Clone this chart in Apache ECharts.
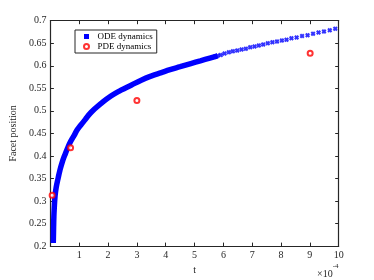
<!DOCTYPE html>
<html>
<head>
<meta charset="utf-8">
<script src="https://cdn.jsdelivr.net/npm/echarts@6/dist/echarts.min.js"></script>
<style>html,body{margin:0;padding:0;background:#fff}#c{width:374px;height:280px}</style>
</head>
<body>
<div id="c"></div>
<script>
// ODE dynamics, dense early part (t in 1e-4)
var odeDenseT = [0.10, 0.11, 0.12, 0.13, 0.16, 0.20, 0.266, 0.33, 0.414, 0.50, 0.587, 0.70, 0.82, 0.93, 1.05, 1.20, 1.415, 1.75, 2.10, 2.45, 2.80, 3.15, 3.49, 3.85, 4.18, 4.50, 4.87, 5.20, 5.53, 5.80];
var odeDenseY = [0.207, 0.240, 0.265, 0.280, 0.310, 0.330, 0.350, 0.368, 0.387, 0.402, 0.416, 0.432, 0.445, 0.458, 0.468, 0.480, 0.497, 0.516, 0.533, 0.546, 0.557, 0.568, 0.577, 0.585, 0.592, 0.598, 0.605, 0.611, 0.617, 0.622];
// ODE dynamics, sparse markers
var odeT = [5.70, 5.80, 5.91, 6.04, 6.19, 6.33, 6.48, 6.63, 6.78, 6.93, 7.08, 7.23, 7.38, 7.54, 7.70, 7.86, 8.03, 8.19, 8.36, 8.54, 8.73, 8.92, 9.11, 9.30, 9.49, 9.69, 9.88];
var odeY = [0.620, 0.622, 0.624, 0.627, 0.630, 0.632, 0.634, 0.636, 0.638, 0.641, 0.643, 0.645, 0.647, 0.650, 0.652, 0.654, 0.656, 0.658, 0.661, 0.663, 0.666, 0.668, 0.671, 0.674, 0.676, 0.679, 0.682];
// PDE dynamics
var pdeT = [0.06, 0.70, 3.00, 9.01];
var pdeY = [0.313, 0.418, 0.523, 0.628];

var xTicks = [0,1,2,3,4,5,6,7,8,9,10];
var yTicks = [0.2,0.25,0.3,0.35,0.4,0.45,0.5,0.55,0.6,0.65,0.7];

function zip(a,b){return a.map(function(v,i){return [v,b[i]];});}

var FONT = 'Liberation Serif';
var TXT = '#262626';
var crossPath = 'path://M0,3 L3,0 L5,2 L7,0 L10,3 L8,5 L10,7 L7,10 L5,8 L3,10 L0,7 L2,5 Z';
var squarePath = 'path://M0,0 L10,0 L10,10 L0,10 Z';

var chart = echarts.init(document.getElementById('c'), null, {renderer:'canvas'});
var axisCommon = {
  axisLine:{show:true, onZero:false, lineStyle:{color:TXT, width:1.2}},
  axisTick:{show:true, inside:true, length:3.5, lineStyle:{color:TXT, width:1}},
  splitLine:{show:false}
};
chart.setOption({
  animation:false,
  backgroundColor:'#fff',
  textStyle:{fontFamily:FONT},
  grid:{left:49, right:35.3, top:20.7, bottom:31.7, containLabel:false},
  legend:{
    left:75, top:30, orient:'vertical', symbolKeepAspect:true,
    padding:[2,4,2,8], itemGap:1, itemWidth:12, itemHeight:5,
    borderColor:TXT, borderWidth:1, backgroundColor:'#fff',
    textStyle:{fontFamily:FONT, fontSize:9, color:'#000'},
    data:[{name:'ODE dynamics', icon:squarePath, itemStyle:{color:'#0000ff'}}, {name:'PDE dynamics', icon:'emptyCircle'}]
  },
  xAxis:[
    Object.assign({type:'value', min:0, max:10, interval:1, position:'bottom',
      name:'t', nameLocation:'middle', nameGap:18,
      nameTextStyle:{fontFamily:FONT, fontSize:10, color:TXT},
      axisLabel:{fontFamily:FONT, fontSize:10, color:TXT, margin:4,
        formatter:function(v){return v===0?'':String(v);}}
    }, axisCommon),
    Object.assign({type:'value', min:0, max:10, interval:1, position:'top',
      axisLabel:{show:false}}, axisCommon)
  ],
  yAxis:[
    Object.assign({type:'value', min:0.2, max:0.7, interval:0.05, position:'left',
      name:'Facet position', nameLocation:'middle', nameGap:26,
      nameTextStyle:{fontFamily:FONT, fontSize:10, color:TXT},
      axisLabel:{fontFamily:FONT, fontSize:10, color:TXT, margin:4,
        formatter:function(v){return String(+v.toFixed(2));}}
    }, axisCommon),
    Object.assign({type:'value', min:0.2, max:0.7, interval:0.05, position:'right',
      axisLabel:{show:false}}, axisCommon)
  ],
  series:[
    {name:'ODE dynamics', type:'line', data:zip(odeDenseT, odeDenseY), smooth:true,
      showSymbol:false, symbol:'none', lineStyle:{color:'#0000ff', width:5.5}, itemStyle:{color:'#0000ff'},
      xAxisIndex:0, yAxisIndex:0, z:2},
    {name:'ODE dynamics', type:'scatter', data:zip(odeT, odeY), symbol:crossPath, symbolSize:5,
      itemStyle:{color:'#0000ff'}, xAxisIndex:0, yAxisIndex:0, z:2},
    {name:'PDE dynamics', type:'scatter', data:zip(pdeT, pdeY), symbol:'emptyCircle', symbolSize:5,
      itemStyle:{color:'#ff0000', borderColor:'#ff0000', borderWidth:1.3}, xAxisIndex:0, yAxisIndex:0, z:3}
  ],
  graphic:[{
    type:'text', left:317, top:263,
    style:{
      text:'{a|×10}{b|-4}',
      rich:{a:{fontFamily:FONT, fontSize:10, fill:TXT, verticalAlign:'bottom', padding:[6,0,0,0]},
            b:{fontFamily:FONT, fontSize:7, fill:TXT, verticalAlign:'top', padding:[0,0,6,0]}}
    }
  }]
});
</script>
</body>
</html>
